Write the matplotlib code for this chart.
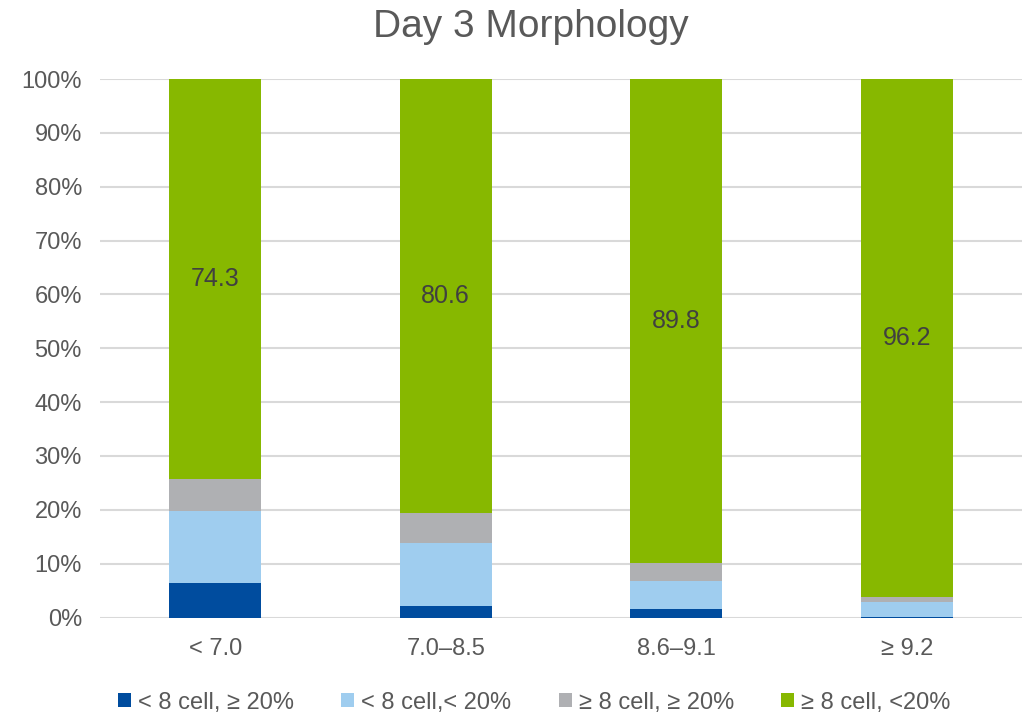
import numpy as np
from matplotlib import pyplot as plt

plt.rcParams['font.family'] = ['Liberation Sans', 'DejaVu Sans']

categories = ['< 7.0', '7.0–8.5', '8.6–9.1', '≥ 9.2']
series_names = ['< 8 cell, ≥ 20%', '< 8 cell,< 20%', '≥ 8 cell, ≥ 20%', '≥ 8 cell, <20%']
dark_blue = [6.4, 2.1, 1.6, 0.1]
light_blue = [13.4, 11.7, 5.2, 2.8]
gray = [5.9, 5.6, 3.4, 0.9]
green = [74.3, 80.6, 89.8, 96.2]
green_labels = ['74.3', '80.6', '89.8', '96.2']

colors = ['#004C9E', '#9FCDEF', '#AFB0B3', '#87B800']
series = [dark_blue, light_blue, gray, green]

fig = plt.figure(figsize=(10.24, 7.15), dpi=100)
ax = fig.add_axes([100/1024, 97.5/715, 922/1024, 538.5/715])

x = np.arange(len(categories))
bottom = np.zeros(len(categories))
for vals, c, name in zip(series, colors, series_names):
    ax.bar(x, vals, 0.4, bottom=bottom, color=c, label=name, zorder=3)
    bottom = bottom + np.array(vals)

# labels only on the green part
gb = np.array(dark_blue) + np.array(light_blue) + np.array(gray)
for i in range(len(categories)):
    ax.text(x[i], gb[i] + green[i] / 2, green_labels[i], ha='center', va='center',
            fontsize=18, color='#404040', zorder=4)

ax.set_xlim(-0.5, 3.5)
ax.set_ylim(0, 100)
ax.set_yticks(np.arange(0, 101, 10))
ax.set_yticklabels([f'{v}%' for v in range(0, 101, 10)])
ax.set_xticks(x)
ax.set_xticklabels(categories)
ax.tick_params(axis='both', length=0, labelsize=17, colors='#595959')
ax.tick_params(axis='y', pad=13)
ax.tick_params(axis='x', pad=15)
ax.yaxis.grid(True, color='#D9D9D9', linewidth=1.5, zorder=0)
for s in ax.spines.values():
    s.set_visible(False)

fig.text(0.518, 0.962, 'Day 3 Morphology', ha='center', va='center',
         fontsize=28, color='#595959')

ax.legend(loc='upper center', bbox_to_anchor=(0.471, -0.098), ncol=4, frameon=False,
          fontsize=17, handlelength=0.55, handleheight=0.55, handletextpad=0.3,
          columnspacing=2.0, labelcolor='#595959')

fig.savefig('out.png', dpi=100)
